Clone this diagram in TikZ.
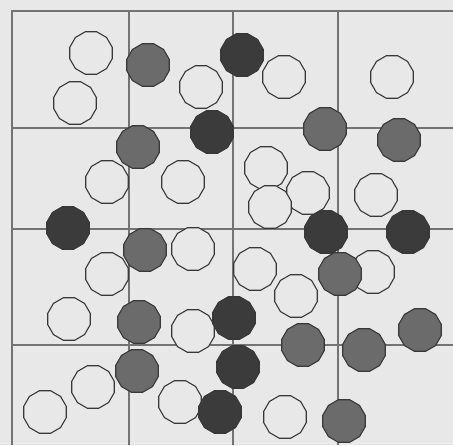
\documentclass[tikz,border=0pt]{standalone}
\usetikzlibrary{shapes.geometric}
\definecolor{paper}{gray}{0.91}
\definecolor{ink}{gray}{0.22}
\definecolor{midfill}{gray}{0.42}
\definecolor{darkfill}{gray}{0.23}
\definecolor{rule}{gray}{0.45}

\begin{document}
\begin{tikzpicture}[x=1pt, y=-1pt,
  dot/.style={regular polygon, regular polygon sides=12, minimum size=44pt, inner sep=0pt, draw=ink, line width=1.1pt},
  hollow/.style={dot, fill=paper},
  grey/.style={dot, fill=midfill},
  dark/.style={dot, fill=darkfill},
  gridline/.style={draw=rule, line width=1.3pt}
]
  % Paper and grid
  \fill[paper] (0,0) rectangle (453,445);
  \useasboundingbox (0,0) rectangle (453,445);
  \draw[gridline, line width=2pt] (12,445) -- (12,11) -- (453,11);
  \draw[gridline] (129,11) -- (129,445);
  \draw[gridline] (233,11) -- (233,445);
  \draw[gridline] (338,11) -- (338,445);
  \draw[gridline] (12,128) -- (453,128);
  \draw[gridline] (12,229) -- (453,229);
  \draw[gridline] (12,345) -- (453,345);

  % Hollow points
  \node[hollow] (h1) at (91,53) {};
  \node[hollow] (h2) at (201,87) {};
  \node[hollow] (h3) at (75,103) {};
  \node[hollow] (h4) at (284,77) {};
  \node[hollow] (h5) at (392,77) {};
  \node[hollow] (h6) at (107,182) {};
  \node[hollow] (h7) at (183,182) {};
  \node[hollow] (h8) at (266,168) {};
  \node[hollow] (h9) at (308,193) {};
  \node[hollow] (h10) at (270,207) {};
  \node[hollow] (h11) at (376,195) {};
  \node[hollow] (h12) at (193,249) {};
  \node[hollow] (h13) at (107,274) {};
  \node[hollow] (h14) at (255,269) {};
  \node[hollow] (h15) at (373,272) {};
  \node[hollow] (h16) at (296,296) {};
  \node[hollow] (h17) at (69,319) {};
  \node[hollow] (h18) at (193,331) {};
  \node[hollow] (h19) at (93,387) {};
  \node[hollow] (h20) at (45,412) {};
  \node[hollow] (h21) at (180,402) {};
  \node[hollow] (h22) at (285,417) {};

  % Grey points
  \node[grey] (g1) at (148,65) {};
  \node[grey] (g2) at (138,147) {};
  \node[grey] (g3) at (325,129) {};
  \node[grey] (g4) at (399,140) {};
  \node[grey] (g5) at (145,250) {};
  \node[grey] (g6) at (139,322) {};
  \node[grey] (g7) at (137,371) {};
  \node[grey] (g8) at (340,274) {};
  \node[grey] (g9) at (303,345) {};
  \node[grey] (g10) at (364,350) {};
  \node[grey] (g11) at (420,330) {};
  \node[grey] (g12) at (344,421) {};

  % Dark points
  \node[dark] (d1) at (242,55) {};
  \node[dark] (d2) at (212,132) {};
  \node[dark] (d3) at (68,228) {};
  \node[dark] (d4) at (326,232) {};
  \node[dark] (d5) at (408,232) {};
  \node[dark] (d6) at (234,318) {};
  \node[dark] (d7) at (238,367) {};
  \node[dark] (d8) at (220,412) {};
\end{tikzpicture}
\end{document}
